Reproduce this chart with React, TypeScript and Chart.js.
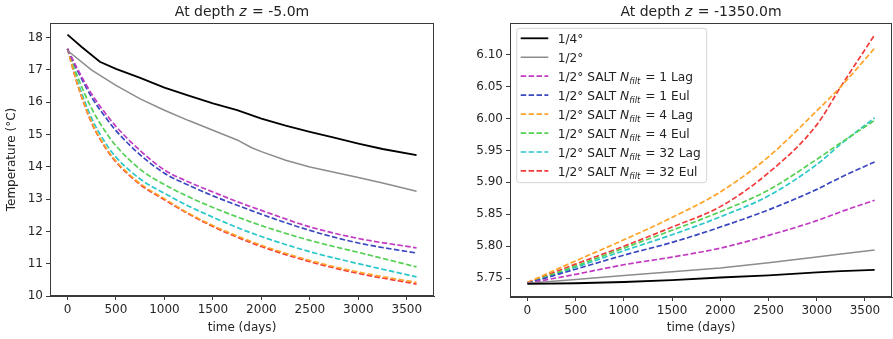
import React, { useEffect, useRef } from 'react';
import { Chart, registerables } from 'chart.js';

Chart.register(...registerables);

const FONT = "'DejaVu Sans', sans-serif";

// ---------- Left panel data (z = -5.0 m) ----------
const leftBlackDays = [0, 150, 334, 500, 750, 1000, 1250, 1500, 1750, 2000, 2250, 2500, 2750, 3000, 3250, 3600];
const leftBlack = [18.09, 17.7, 17.25, 17.03, 16.75, 16.45, 16.2, 15.96, 15.75, 15.49, 15.27, 15.08, 14.9, 14.72, 14.55, 14.36];

const leftGrayDays = [0, 250, 500, 750, 1000, 1250, 1500, 1750, 1900, 2000, 2250, 2500, 2750, 3000, 3250, 3600];
const leftGray = [17.6, 16.99, 16.52, 16.1, 15.75, 15.43, 15.13, 14.83, 14.59, 14.47, 14.2, 13.99, 13.83, 13.67, 13.5, 13.24];

const leftDays = [0, 100, 250, 400, 500, 750, 1000, 1250, 1500, 1750, 2000, 2500, 3000, 3600];
const leftMagenta = [17.65, 17.05, 16.25, 15.62, 15.25, 14.5, 13.9, 13.53, 13.22, 12.92, 12.65, 12.14, 11.78, 11.49];
const leftBlue = [17.65, 17.0, 16.15, 15.5, 15.12, 14.37, 13.8, 13.43, 13.1, 12.81, 12.53, 12.03, 11.64, 11.33];
const leftOrange = [17.65, 16.6, 15.38, 14.58, 14.18, 13.48, 13.01, 12.56, 12.18, 11.86, 11.57, 11.1, 10.74, 10.42];
const leftGreen = [17.65, 16.82, 15.8, 15.05, 14.65, 13.92, 13.45, 13.07, 12.74, 12.45, 12.18, 11.72, 11.35, 10.9];
const leftCyan = [17.65, 16.68, 15.5, 14.7, 14.3, 13.62, 13.18, 12.78, 12.44, 12.12, 11.84, 11.37, 11.0, 10.59];
const leftRed = [17.65, 16.58, 15.35, 14.55, 14.15, 13.45, 12.98, 12.54, 12.15, 11.82, 11.53, 11.06, 10.7, 10.37];

// ---------- Right panel data (z = -1350.0 m) ----------
const rightDays = [0, 500, 1000, 1500, 2000, 2500, 3000, 3250, 3600];
const rightBlack = [5.741, 5.742, 5.744, 5.747, 5.751, 5.7545, 5.759, 5.761, 5.763];
const rightGray = [5.742, 5.748, 5.754, 5.76, 5.766, 5.774, 5.783, 5.788, 5.794];
const rightMagenta = [5.742, 5.756, 5.771, 5.783, 5.797, 5.817, 5.84, 5.854, 5.872];
const rightBlue = [5.742, 5.764, 5.786, 5.806, 5.83, 5.857, 5.889, 5.908, 5.932];
const rightOrange = [5.743, 5.777, 5.81, 5.845, 5.885, 5.94, 6.012, 6.05, 6.11];
const rightGreen = [5.742, 5.769, 5.797, 5.825, 5.854, 5.888, 5.936, 5.962, 5.997];
const rightCyan = [5.742, 5.767, 5.793, 5.818, 5.846, 5.879, 5.928, 5.96, 6.001];
const rightRed = [5.743, 5.772, 5.8, 5.83, 5.862, 5.915, 5.99, 6.05, 6.131];

// ---------- Ticks / labels ----------
const xTicks = [0, 500, 1000, 1500, 2000, 2500, 3000, 3500];
const leftYTicks = [10, 11, 12, 13, 14, 15, 16, 17, 18];
const rightYTicks = [5.75, 5.8, 5.85, 5.9, 5.95, 6.0, 6.05, 6.1];

const seriesColors = ['#000000', '#8c8c8c', '#c23ac2', '#3a48c0', '#ffa42a', '#55d055', '#2ac8c8', '#f23a3a'];
const legendBase = ['1/4°', '1/2°', '1/2° SALT ', '1/2° SALT ', '1/2° SALT ', '1/2° SALT ', '1/2° SALT ', '1/2° SALT '];
const legendNfilt = ['', '', '1', '1', '4', '4', '32', '32'];
const legendScheme = ['', '', 'Lag', 'Eul', 'Lag', 'Eul', 'Lag', 'Eul'];

type Part = { t: string; italic?: boolean; sub?: boolean; gap?: number };

function drawParts(ctx: CanvasRenderingContext2D, parts: Part[], x: number, y: number, size: number, align: 'left' | 'center') {
  const fontFor = (p: Part) => `${p.italic ? 'italic ' : ''}${p.sub ? size * 0.7 : size}px ${FONT}`;
  let total = 0;
  for (const p of parts) {
    ctx.font = fontFor(p);
    total += ctx.measureText(p.t).width + (p.gap || 0);
  }
  let cx = align === 'center' ? x - total / 2 : x;
  ctx.textAlign = 'left';
  ctx.textBaseline = 'alphabetic';
  for (const p of parts) {
    ctx.font = fontFor(p);
    ctx.fillText(p.t, cx, p.sub ? y + size * 0.22 : y);
    cx += ctx.measureText(p.t).width + (p.gap || 0);
  }
}

const DASH = [5.5, 2.4];

function lineDs(days: number[], vals: number[], idx: number) {
  const dashed = idx >= 2;
  return {
    label: legendBase[idx] + legendNfilt[idx],
    data: days.map((d, i) => ({ x: d, y: vals[i] })),
    borderColor: seriesColors[idx],
    backgroundColor: seriesColors[idx],
    borderWidth: idx === 0 ? 1.8 : idx === 1 ? 1.5 : 1.7,
    borderDash: dashed ? DASH : [],
    pointRadius: 0,
    fill: false,
    cubicInterpolationMode: dashed ? ('monotone' as const) : ('default' as const),
    tension: 0,
  };
}

function makeTitlePlugin(parts: Part[]) {
  return {
    id: 'customTitle',
    afterDraw(chart: any) {
      const { ctx, chartArea } = chart;
      ctx.save();
      ctx.fillStyle = '#222';
      drawParts(ctx, parts, (chartArea.left + chartArea.right) / 2, 15.5, 14, 'center');
      ctx.restore();
    },
  };
}

const framePlugin = {
  id: 'frame',
  afterDatasetsDraw(chart: any) {
    const { ctx, chartArea } = chart;
    ctx.save();
    ctx.strokeStyle = '#3a3a3a';
    ctx.lineWidth = 1;
    ctx.strokeRect(chartArea.left + 0.5, chartArea.top + 0.5, chartArea.right - chartArea.left - 1, chartArea.bottom - chartArea.top - 1);
    ctx.restore();
  },
};

const legendPlugin = {
  id: 'customLegend',
  afterDatasetsDraw(chart: any) {
    const { ctx, chartArea } = chart;
    const bx = chartArea.left + 6.7;
    const by = chartArea.top + 5.3;
    const bw = 190;
    const bh = 154.4;
    ctx.save();
    ctx.beginPath();
    const r = 3;
    ctx.moveTo(bx + r, by);
    ctx.lineTo(bx + bw - r, by);
    ctx.arcTo(bx + bw, by, bx + bw, by + r, r);
    ctx.lineTo(bx + bw, by + bh - r);
    ctx.arcTo(bx + bw, by + bh, bx + bw - r, by + bh, r);
    ctx.lineTo(bx + r, by + bh);
    ctx.arcTo(bx, by + bh, bx, by + bh - r, r);
    ctx.lineTo(bx, by + r);
    ctx.arcTo(bx, by, bx + r, by, r);
    ctx.closePath();
    ctx.fillStyle = 'rgba(255,255,255,0.85)';
    ctx.fill();
    ctx.strokeStyle = '#d4d4d4';
    ctx.lineWidth = 1;
    ctx.stroke();
    for (let i = 0; i < legendBase.length; i++) {
      const ly = chartArea.top + 15.3 + i * 18.95;
      ctx.beginPath();
      ctx.setLineDash(i >= 2 ? DASH : []);
      ctx.strokeStyle = seriesColors[i];
      ctx.lineWidth = i === 0 ? 1.8 : i === 1 ? 1.5 : 1.7;
      ctx.moveTo(chartArea.left + 10.7, ly);
      ctx.lineTo(chartArea.left + 38.3, ly);
      ctx.stroke();
      ctx.setLineDash([]);
      const parts: Part[] = [{ t: legendBase[i] }];
      if (legendNfilt[i]) {
        parts.push({ t: 'N', italic: true });
        parts.push({ t: 'filt', italic: true, sub: true, gap: 1 });
        parts.push({ t: ' = ' + legendNfilt[i] + ' ' + legendScheme[i] });
      }
      ctx.fillStyle = '#222';
      drawParts(ctx, parts, chartArea.left + 47.7, ly + 5, 12.2, 'left');
    }
    ctx.restore();
  },
};

function axisCommon() {
  return {
    grid: { display: true, drawOnChartArea: false, drawTicks: true, tickLength: 4, tickColor: '#3a3a3a', lineWidth: 1 },
    border: { display: true, color: '#3a3a3a', width: 1 },
  };
}

function buildOptions(yMin: number, yMax: number, yTicks: number[], yDecimals: number, yWidth: number, xHeight: number, yTitle: string | null, rightPad: number): any {
  return {
    responsive: false,
    animation: false,
    devicePixelRatio: 1,
    layout: { padding: { left: 0, top: 23, right: rightPad, bottom: 0 } },
    plugins: { legend: { display: false }, title: { display: false }, tooltip: { enabled: false } },
    scales: {
      x: {
        type: 'linear',
        min: -180,
        max: 3780,
        ...axisCommon(),
        afterBuildTicks: (s: any) => { s.ticks = xTicks.map((v) => ({ value: v })); },
        ticks: {
          autoSkip: false,
          maxRotation: 0,
          color: '#262626',
          padding: 3,
          font: { family: FONT, size: 12 },
          callback: (v: number) => String(v),
        },
        title: { display: true, text: 'time (days)', color: '#262626', font: { family: FONT, size: 12 }, padding: { top: 0, bottom: 4 } },
        afterFit: (s: any) => { s.height = xHeight; },
      },
      y: {
        type: 'linear',
        min: yMin,
        max: yMax,
        ...axisCommon(),
        afterBuildTicks: (s: any) => { s.ticks = yTicks.map((v) => ({ value: v })); },
        ticks: {
          autoSkip: false,
          color: '#262626',
          padding: 3,
          font: { family: FONT, size: 12 },
          callback: (v: number) => Number(v).toFixed(yDecimals),
        },
        title: yTitle
          ? { display: true, text: yTitle, color: '#262626', font: { family: FONT, size: 12 }, padding: { top: 5, bottom: 0 } }
          : { display: false },
        afterFit: (s: any) => { s.width = yWidth; },
      },
    },
  };
}

export default function App() {
  const leftRef = useRef<HTMLCanvasElement>(null);
  const rightRef = useRef<HTMLCanvasElement>(null);

  useEffect(() => {
    const leftChart = new Chart(leftRef.current!, {
      type: 'line',
      data: {
        datasets: [
          lineDs(leftBlackDays, leftBlack, 0),
          lineDs(leftGrayDays, leftGray, 1),
          lineDs(leftDays, leftMagenta, 2),
          lineDs(leftDays, leftBlue, 3),
          lineDs(leftDays, leftOrange, 4),
          lineDs(leftDays, leftGreen, 5),
          lineDs(leftDays, leftCyan, 6),
          lineDs(leftDays, leftRed, 7),
        ],
      },
      options: buildOptions(10, 18.45, leftYTicks, 0, 50, 43, 'Temperature (°C)', 12),
      plugins: [framePlugin, makeTitlePlugin([{ t: 'At depth ' }, { t: 'z', italic: true, gap: 1 }, { t: ' = -5.0m' }])],
    });
    const rightChart = new Chart(rightRef.current!, {
      type: 'line',
      data: {
        datasets: [
          lineDs(rightDays, rightBlack, 0),
          lineDs(rightDays, rightGray, 1),
          lineDs(rightDays, rightMagenta, 2),
          lineDs(rightDays, rightBlue, 3),
          lineDs(rightDays, rightOrange, 4),
          lineDs(rightDays, rightGreen, 5),
          lineDs(rightDays, rightCyan, 6),
          lineDs(rightDays, rightRed, 7),
        ],
      },
      options: buildOptions(5.7205, 6.1495, rightYTicks, 2, 64, 42, null, 1),
      plugins: [framePlugin, legendPlugin, makeTitlePlugin([{ t: 'At depth ' }, { t: 'z', italic: true, gap: 1 }, { t: ' = -1350.0m' }])],
    });
    return () => {
      leftChart.destroy();
      rightChart.destroy();
    };
  }, []);

  return (
    <div style={{ position: 'fixed', left: 0, top: 0, width: 893, height: 339, background: '#ffffff' }}>
      <canvas ref={leftRef} width={446} height={339} style={{ position: 'absolute', left: 0, top: 0, width: 446, height: 339 }} />
      <canvas ref={rightRef} width={447} height={339} style={{ position: 'absolute', left: 446, top: 0, width: 447, height: 339 }} />
    </div>
  );
}
